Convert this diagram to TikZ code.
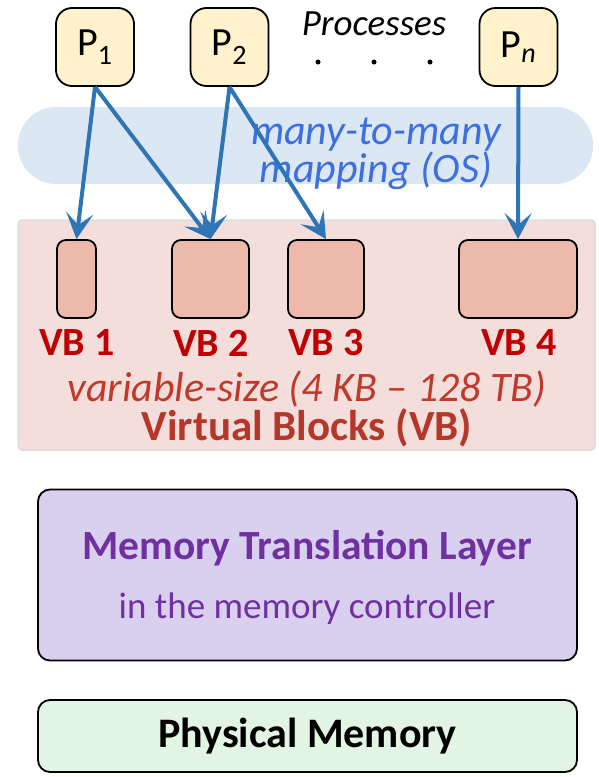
\documentclass[tikz,border=0pt]{standalone}
\usepackage{fontspec}
\setmainfont{Carlito}
\usetikzlibrary{arrows.meta}
\definecolor{procfill}{HTML}{FFF2CC}
\definecolor{bandblue}{HTML}{DCE7F4}
\definecolor{maptext}{HTML}{3E6FE0}
\definecolor{vbbg}{HTML}{F4DEDC}
\definecolor{vbborder}{HTML}{DDDDDD}
\definecolor{vbfill}{HTML}{EDB9AA}
\definecolor{vbred}{HTML}{C00000}
\definecolor{vsize}{HTML}{C0392B}
\definecolor{vbtitle}{HTML}{B5372A}
\definecolor{mtlfill}{HTML}{D9D0F0}
\definecolor{mtltext}{HTML}{7030A0}
\definecolor{pmfill}{HTML}{E2F4E4}
\definecolor{arrowblue}{HTML}{2E75B6}
\begin{document}
\begin{tikzpicture}[x=1pt,y=-1pt,
  proc/.style={draw=black,line width=1.8pt,fill=procfill,rounded corners=16pt,minimum width=78pt,minimum height=78pt,inner sep=0pt,font=\fontsize{40}{44}\selectfont},
  vbbox/.style={draw=black,line width=1.8pt,fill=vbfill,rounded corners=9pt,minimum height=78pt,inner sep=0pt},
  vblabel/.style={text=vbred,inner sep=0pt,font=\fontsize{40}{44}\selectfont\bfseries},
  map/.style={draw=arrowblue,line width=4pt,-{Stealth[length=26pt,width=27pt,inset=12pt]}},
  layerbox/.style={draw=black,line width=1.8pt,rounded corners=12pt,minimum width=539pt,inner sep=0pt},
  dotnode/.style={circle,fill=black,minimum size=5pt,inner sep=0pt}
]
\useasboundingbox (0,0) rectangle (598,777);
% mapping band
\node[fill=bandblue,rounded corners=38pt,minimum width=575pt,minimum height=77pt,inner sep=0pt] (band) at (305.5,145.5) {};
% virtual block region
\node[fill=vbbg,draw=vbborder,line width=1.5pt,rounded corners=4pt,minimum width=577pt,minimum height=230pt,inner sep=0pt] (vbregion) at (306.5,335) {};
% processes
\node[proc] (p1) at (95,47) {P\textsubscript{1}};
\node[proc] (p2) at (229.5,47) {P\textsubscript{2}};
\node[proc] (pn) at (518.5,47) {P\textsubscript{\itshape n}};
\node[font=\fontsize{37}{40}\selectfont\itshape,inner sep=0pt] (proclabel) at (374,24) {Processes};
\node[dotnode] (d1) at (318,62) {};
\node[dotnode] (d2) at (374,62) {};
\node[dotnode] (d3) at (430,62) {};
% mapping text
\node[text=maptext,align=center,font=\fontsize{42}{38}\selectfont\itshape,inner sep=0pt] (maptxt) at (376,154) {many-to-many\\mapping (OS)};
% virtual blocks
\node[vbbox,minimum width=39pt] (vb1) at (76.5,279) {};
\node[vbbox,minimum width=77pt] (vb2) at (210.5,279) {};
\node[vbbox,minimum width=76pt] (vb3) at (326,279) {};
\node[vbbox,minimum width=118pt] (vb4) at (518,279) {};
\node[vblabel] (l1) at (77,343) {VB 1};
\node[vblabel] (l2) at (211,343) {VB 2};
\node[vblabel] (l3) at (326,343) {VB 3};
\node[vblabel] (l4) at (519,343) {VB 4};
\node[text=vsize,inner sep=0pt,font=\fontsize{42}{46}\selectfont\itshape] (vsz) at (307,389) {variable-size (4 KB -- 128 TB)};
\node[text=vbtitle,inner sep=0pt,font=\fontsize{43}{46}\selectfont\bfseries] (vbt) at (307,428) {Virtual Blocks (VB)};
% arrows
\draw[map] (p1.south) -- (vb1.north);
\draw[map] (p1.south) -- (vb2.north);
\draw[map] (p2.south) -- (vb2.north);
\draw[map] (p2.south) -- (vb3.north);
\draw[map] (pn.south) -- (vb4.north);
% memory translation layer
\node[layerbox,fill=mtlfill,minimum height=171pt] (mtl) at (307.5,575) {};
\node[text=mtltext,inner sep=0pt,font=\fontsize{41.5}{46}\selectfont\bfseries] (mtlt) at (307,548) {Memory Translation Layer};
\node[text=mtltext,inner sep=0pt,font=\fontsize{37}{40}\selectfont] (mtls) at (307,609) {in the memory controller};
% physical memory
\node[layerbox,fill=pmfill,minimum height=72pt,font=\fontsize{42}{46}\selectfont\bfseries] (pm) at (307.5,736) {Physical Memory};
\end{tikzpicture}
\end{document}
